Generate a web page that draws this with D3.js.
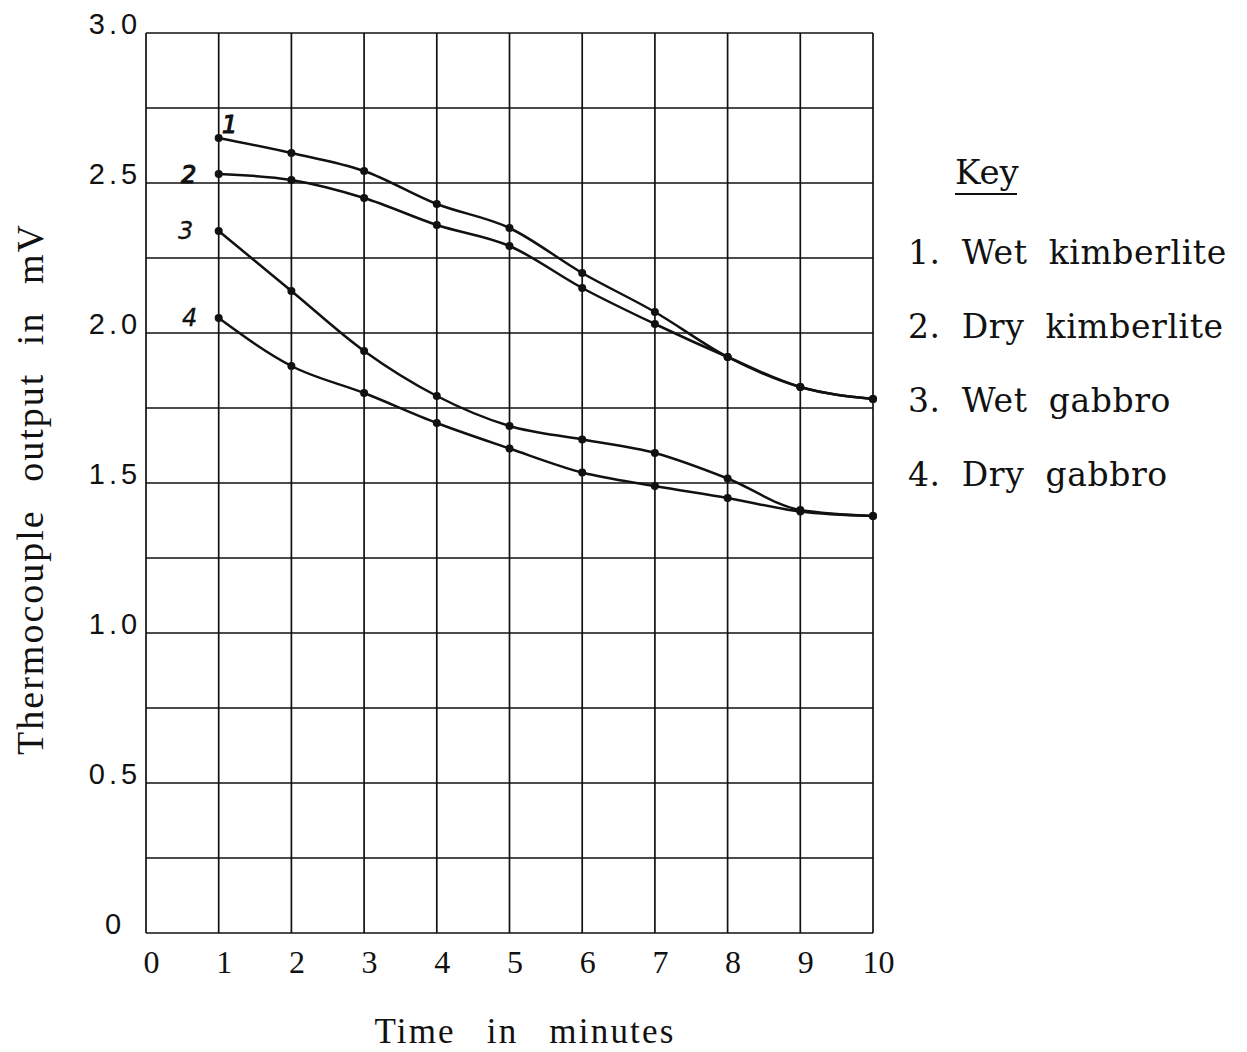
<!DOCTYPE html>
<html>
<head>
<meta charset="utf-8">
<script src="https://cdn.jsdelivr.net/npm/d3@7"></script>
<style>
  body { margin: 0; background: #fff; }
  svg { display: block; }
</style>
</head>
<body>
<svg id="chart" width="1247" height="1052"></svg>
<script>
// readings (thermocouple output, mV)
var timeMin = [1, 2, 3, 4, 5, 6, 7, 8, 9, 10];
var wetKimberlite = [2.65, 2.60, 2.54, 2.43, 2.35, 2.20, 2.07, 1.92, 1.82, 1.78];
var dryKimberlite = [2.53, 2.51, 2.45, 2.36, 2.29, 2.15, 2.03, 1.92, 1.82, 1.78];
var wetGabbro = [2.34, 2.14, 1.94, 1.79, 1.69, 1.645, 1.60, 1.515, 1.41, 1.39];
var dryGabbro = [2.05, 1.89, 1.80, 1.70, 1.615, 1.535, 1.49, 1.45, 1.405, 1.39];
var seriesNames = ['Wet kimberlite', 'Dry kimberlite', 'Wet gabbro', 'Dry gabbro'];
var xTicks = [0, 1, 2, 3, 4, 5, 6, 7, 8, 9, 10];
var yLabelTicks = [0, 0.5, 1.0, 1.5, 2.0, 2.5, 3.0];
var yGridTicks = [0, 0.25, 0.5, 0.75, 1.0, 1.25, 1.5, 1.75, 2.0, 2.25, 2.5, 2.75, 3.0];

var svg = d3.select('#chart');
svg.append('rect').attr('width', 1247).attr('height', 1052).attr('fill', '#fff');

var x = d3.scaleLinear().domain([0, 10]).range([146, 873]);
var y = d3.scaleLinear().domain([0, 3]).range([933, 33]);

var ink = '#111';
var sans = '"Liberation Sans", Arial, sans-serif';
var serif = '"Liberation Serif", "Times New Roman", serif';
var slab = '"DejaVu Serif", serif';

// grid
var grid = svg.append('g').attr('class', 'grid');
grid.selectAll('line.h')
    .data(yGridTicks)
    .enter().append('line')
    .attr('class', 'h')
    .attr('x1', x(0)).attr('x2', x(10))
    .attr('y1', function (d) { return y(d); })
    .attr('y2', function (d) { return y(d); })
    .style('stroke', ink)
    .style('stroke-width', 1.7);

grid.selectAll('line.v')
    .data(xTicks)
    .enter().append('line')
    .attr('class', 'v')
    .attr('x1', function (d) { return x(d); })
    .attr('x2', function (d) { return x(d); })
    .attr('y1', y(3)).attr('y2', y(0))
    .style('stroke', ink)
    .style('stroke-width', 1.7);

// y axis labels
var yAxis = d3.axisLeft(y)
    .tickValues(yLabelTicks)
    .tickSize(0)
    .tickFormat(function (d) { return d === 0 ? '0' : d3.format('.1f')(d); });

var yAxisG = svg.append('g')
    .attr('transform', 'translate(' + x(0) + ',0)')
    .call(yAxis);
yAxisG.select('.domain').remove();
yAxisG.selectAll('text')
    .attr('x', -31)
    .attr('dy', 0)
    .attr('text-anchor', 'middle')
    .style('font-family', sans)
    .style('font-size', '29px')
    .style('letter-spacing', '4px')
    .style('fill', ink);

// x axis labels
var xAxis = d3.axisBottom(x)
    .tickValues(xTicks)
    .tickSize(0)
    .tickFormat(d3.format('d'));

var xAxisG = svg.append('g')
    .attr('transform', 'translate(0,' + y(0) + ')')
    .call(xAxis);
xAxisG.select('.domain').remove();
xAxisG.selectAll('text')
    .attr('y', 40)
    .attr('dy', 0)
    .attr('dx', 5)
    .style('font-family', serif)
    .style('font-size', '32px')
    .style('fill', ink);

// axis titles
svg.append('text')
    .attr('transform', 'translate(43,489) rotate(-90)')
    .attr('text-anchor', 'middle')
    .style('font-family', serif)
    .style('font-size', '38px')
    .style('word-spacing', '16px')
    .style('letter-spacing', '2px')
    .style('fill', ink)
    .text('Thermocouple output in mV');

svg.append('text')
    .attr('x', 525).attr('y', 1043)
    .attr('text-anchor', 'middle')
    .style('font-family', serif)
    .style('font-size', '35px')
    .style('word-spacing', '20px')
    .style('letter-spacing', '2.2px')
    .style('fill', ink)
    .text('Time in minutes');

// curves
var allSeries = [wetKimberlite, dryKimberlite, wetGabbro, dryGabbro];
var line = d3.line()
    .x(function (d, i) { return x(timeMin[i]); })
    .y(function (d) { return y(d); })
    .curve(d3.curveMonotoneX);

var curves = svg.selectAll('.series')
    .data(allSeries)
    .enter().append('g')
    .attr('class', 'series');

curves.append('path')
    .attr('d', function (d) { return line(d); })
    .style('fill', 'none')
    .style('stroke', ink)
    .style('stroke-width', 2.5);

curves.selectAll('circle')
    .data(function (d) { return d; })
    .enter().append('circle')
    .attr('cx', function (d, i) { return x(timeMin[i]); })
    .attr('cy', function (d) { return y(d); })
    .attr('r', 4)
    .style('fill', ink);

// hand written curve numbers next to the first point
var numOffsets = [[11, -5], [-30, 9], [-33, 8], [-29, 8]];
curves.append('text')
    .attr('x', function (d, i) { return x(timeMin[0]) + numOffsets[i][0]; })
    .attr('y', function (d, i) { return y(d[0]) + numOffsets[i][1]; })
    .attr('text-anchor', 'middle')
    .style('font-family', '"DejaVu Sans", sans-serif')
    .style('font-style', 'italic')
    .style('font-size', '24px')
    .style('fill', ink)
    .style('stroke', ink)
    .style('stroke-width', function (d, i) { return i < 2 ? 1.2 : 0.3; })
    .text(function (d, i) { return i + 1; });

// key
svg.append('text')
    .attr('x', 955).attr('y', 184)
    .style('font-family', slab)
    .style('font-size', '34px')
    .style('fill', ink)
    .text('Key');
svg.append('line')
    .attr('x1', 955).attr('x2', 1017)
    .attr('y1', 194).attr('y2', 194)
    .style('stroke', ink)
    .style('stroke-width', 2);

svg.selectAll('text.key')
    .data(seriesNames)
    .enter().append('text')
    .attr('class', 'key')
    .attr('x', 908)
    .attr('y', function (d, i) { return 264 + i * 74; })
    .style('font-family', slab)
    .style('font-size', '33px')
    .style('word-spacing', '10px')
    .style('letter-spacing', '0.6px')
    .style('fill', ink)
    .text(function (d, i) { return (i + 1) + '. ' + d; });
</script>
</body>
</html>
